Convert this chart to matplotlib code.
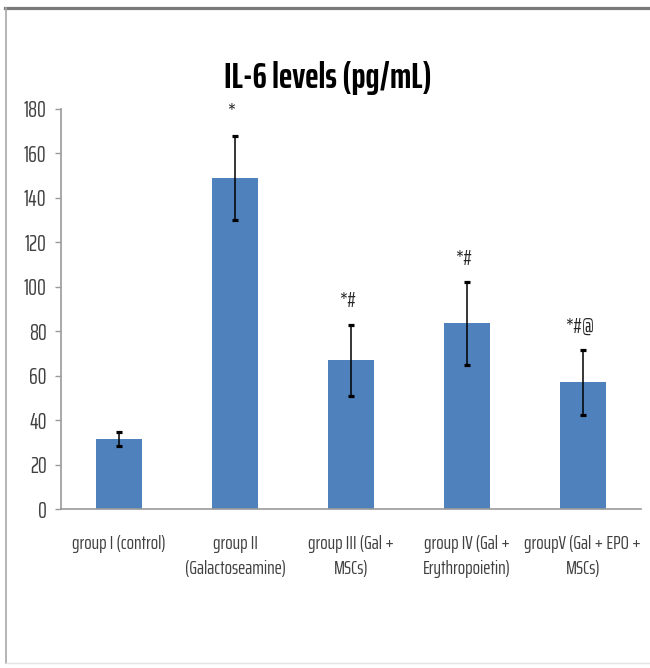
import numpy as np
import matplotlib
matplotlib.use("Agg")
import matplotlib.pyplot as plt
from matplotlib.lines import Line2D

# IL-6 concentrations per group (mean and SD)
groups = ["group I (control)",
          "group II\n(Galactoseamine)",
          "group III (Gal +\nMSCs)",
          "group IV (Gal +\nErythropoietin)",
          "groupV (Gal + EPO +\nMSCs)"]
il6_mean = [31.5, 149, 67, 83.5, 57]
il6_sd = [3, 19, 16, 18.5, 14.5]
signif = ["", "*", "*#", "*#", "*#@"]

plt.rcParams['font.family'] = ['Saira ExtraCondensed', 'PT Sans Narrow', 'DejaVu Sans']

fig = plt.figure(figsize=(6.5, 6.68), dpi=100)
ax = fig.add_axes([0.094, 0.238, 0.892, 0.599])

x = np.arange(len(groups))
ax.bar(x, il6_mean, width=0.4, color='#4F81BD', zorder=2)
ax.errorbar(x, il6_mean, yerr=il6_sd, fmt='none', ecolor='black',
            elinewidth=1.1, capsize=2.3, capthick=2.3, zorder=3)

# significance marks above the error bars
for xi, m, s, lab in zip(x, il6_mean, il6_sd, signif):
    if lab:
        ax.text(xi - 0.03, m + s + 6, lab, ha='center', va='bottom',
                fontsize=15, color='#262626')

ax.set_xlim(-0.5, len(groups) - 0.5)
ax.set_ylim(0, 180)
ax.set_yticks(np.arange(0, 181, 20))
ax.set_xticks(x)
ax.set_xticklabels(groups, fontsize=14, color='#404040', linespacing=1.45)
ax.tick_params(axis='x', length=0, pad=19)
ax.tick_params(axis='y', labelsize=16, labelcolor='#404040', length=4,
               color='#9a9a9a', width=1, pad=6.5)

for side in ['top', 'right']:
    ax.spines[side].set_visible(False)
for side in ['left', 'bottom']:
    ax.spines[side].set_color('#9a9a9a')
    ax.spines[side].set_linewidth(1.2)

fig.text(0.505, 0.883, "IL-6 levels (pg/mL)", ha='center', va='center',
         fontsize=26, fontweight='bold', color='black')

# chart frame
fig.add_artist(Line2D([5 / 650, 1], [1 - 7.5 / 668] * 2, color='#7a7a7a', lw=2.3))
fig.add_artist(Line2D([6 / 650] * 2, [1 - 8 / 668, 1 - 663 / 668], color='#a8a8a8', lw=1.2))
fig.add_artist(Line2D([6 / 650, 1], [1 - 663 / 668] * 2, color='#e4e4e4', lw=1))

fig.savefig("out.png", dpi=100)
